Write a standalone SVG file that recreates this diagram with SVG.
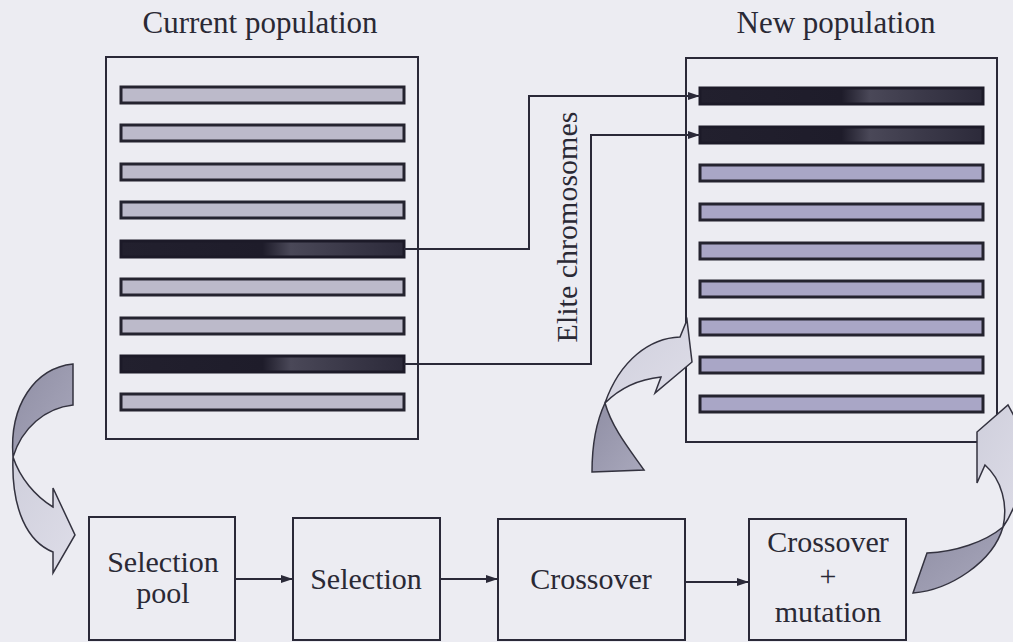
<svg xmlns="http://www.w3.org/2000/svg" width="1013" height="642" viewBox="0 0 1013 642">
<defs>
<style>
.txt{font-family:"Liberation Serif","Times New Roman",serif;font-size:30px;fill:#2a2935}
.ttl{font-size:31px}
.box{fill:#ececf2;stroke:#2a2938;stroke-width:2}
.bar{fill:#bcbaca;stroke:#24232f;stroke-width:3}
.barR{fill:#a9a6c6;stroke:#24232f;stroke-width:3}
.barD{fill:url(#darkBar);stroke:#1c1a28;stroke-width:3}
.conn{fill:none;stroke:#2a2938;stroke-width:2}
.dark{fill:url(#gDark);stroke:#33323f;stroke-width:1.5}
.light{fill:url(#gLight);stroke:#33323f;stroke-width:1.5}
</style>
<linearGradient id="darkBar" x1="0" y1="0" x2="1" y2="0">
<stop offset="0" stop-color="#22202e"/>
<stop offset="0.5" stop-color="#1e1c2a"/>
<stop offset="0.6" stop-color="#4a4858"/>
<stop offset="0.8" stop-color="#3a3848"/>
<stop offset="1" stop-color="#2c2a3a"/>
</linearGradient>
<linearGradient id="gDark" x1="0" y1="0" x2="1" y2="1">
<stop offset="0" stop-color="#8f8ea4"/>
<stop offset="1" stop-color="#a9a8bc"/>
</linearGradient>
<linearGradient id="gLight" x1="0" y1="0" x2="1" y2="1">
<stop offset="0" stop-color="#cfcfdc"/>
<stop offset="1" stop-color="#dedde8"/>
</linearGradient>
<marker id="ah" viewBox="0 0 12 10" refX="12" refY="5" markerWidth="12" markerHeight="10" markerUnits="userSpaceOnUse" orient="auto">
<path d="M0,1 L12,5 L0,9 Z" fill="#2a2938"/>
</marker>
</defs>
<rect width="1013" height="642" fill="#ececf2"/>

<text class="txt ttl" x="260" y="33" text-anchor="middle">Current population</text>
<text class="txt ttl" x="836" y="33" text-anchor="middle">New population</text>

<g id="current-population">
<rect class="box" x="106" y="57" width="312" height="382"/>
<rect class="bar" x="121" y="87" width="283" height="16"/>
<rect class="bar" x="121" y="125" width="283" height="16"/>
<rect class="bar" x="121" y="164" width="283" height="16"/>
<rect class="bar" x="121" y="202" width="283" height="16"/>
<rect class="barD" x="121" y="241" width="283" height="16"/>
<rect class="bar" x="121" y="279" width="283" height="16"/>
<rect class="bar" x="121" y="318" width="283" height="16"/>
<rect class="barD" x="121" y="356" width="283" height="16"/>
<rect class="bar" x="121" y="394" width="283" height="16"/>
</g>

<g id="new-population">
<rect class="box" x="686" y="58" width="311" height="384"/>
<rect class="barD" x="700" y="88" width="283" height="16"/>
<rect class="barD" x="700" y="127" width="283" height="16"/>
<rect class="barR" x="700" y="165" width="283" height="16"/>
<rect class="barR" x="700" y="204" width="283" height="16"/>
<rect class="barR" x="700" y="243" width="283" height="16"/>
<rect class="barR" x="700" y="281" width="283" height="16"/>
<rect class="barR" x="700" y="319" width="283" height="16"/>
<rect class="barR" x="700" y="357" width="283" height="16"/>
<rect class="barR" x="700" y="396" width="283" height="16"/>
</g>

<g id="selection-pool">
<rect class="box" x="89" y="517" width="146" height="123"/>
<text class="txt" x="163" y="572" text-anchor="middle">Selection</text>
<text class="txt" x="163" y="603" text-anchor="middle">pool</text>
</g>
<g id="selection">
<rect class="box" x="293" y="518" width="147" height="122"/>
<text class="txt" x="366" y="589" text-anchor="middle">Selection</text>
</g>
<g id="crossover">
<rect class="box" x="498" y="519" width="187" height="121"/>
<text class="txt" x="591" y="589" text-anchor="middle">Crossover</text>
</g>
<g id="crossover-mutation">
<rect class="box" x="749" y="519" width="157" height="121"/>
<text class="txt" x="828" y="552" text-anchor="middle">Crossover</text>
<text class="txt" x="828" y="586" text-anchor="middle">+</text>
<text class="txt" x="828" y="622" text-anchor="middle">mutation</text>
</g>

<text class="txt" transform="translate(577,227) rotate(-90)" text-anchor="middle">Elite chromosomes</text>

<g id="connectors">
<polyline class="conn" points="404,249 529,249 529,96 700,96" marker-end="url(#ah)"/>
<polyline class="conn" points="404,364 591,364 591,135 700,135" marker-end="url(#ah)"/>
<line class="conn" x1="235" y1="579" x2="293" y2="579" marker-end="url(#ah)"/>
<line class="conn" x1="440" y1="579" x2="498" y2="579" marker-end="url(#ah)"/>
<line class="conn" x1="685" y1="582" x2="749" y2="582" marker-end="url(#ah)"/>
</g>

<g id="loop-arrow-left">
<path class="dark" d="M73,364 L73,405 C45,408 22,428 13,457 C9,405 35,368 73,364 Z"/>
<path class="light" d="M13,457 C20,478 35,496 53,507 L53,488 L75,535 L53,573 L53,552 C28,542 11,510 13,457 Z"/>
</g>
<g id="loop-arrow-middle">
<path class="dark" d="M592,472 L644,470 C630,450 612,428 605,403 C597,420 592,445 592,472 Z"/>
<path class="light" d="M605,403 C615,393 632,380 661,377 L655,393 L692,362 L687,320 L680,337 C650,338 620,360 605,403 Z"/>
</g>
<g id="loop-arrow-right">
<path class="dark" d="M913,593 L927,553 C955,552 985,542 1003,527 C993,562 950,590 913,593 Z"/>
<path class="light" d="M1003,527 C1008,505 1002,480 985,465 L977,483 L977,432 L1008,405 L1030,445 C1025,480 1015,510 1003,527 Z"/>
</g>
</svg>
